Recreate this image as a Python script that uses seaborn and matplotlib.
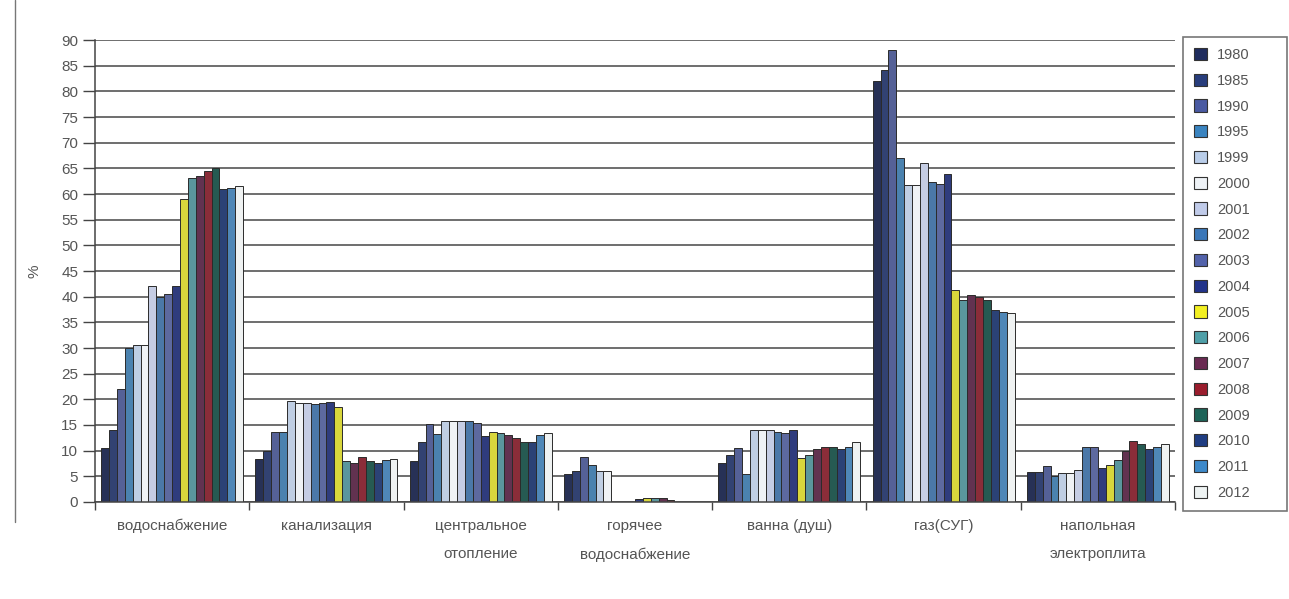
import matplotlib.pyplot as plt
import seaborn as sns
import pandas as pd
import numpy as np
from matplotlib.patches import Patch
from matplotlib.lines import Line2D

years = ["1980", "1985", "1990", "1995", "1999", "2000", "2001", "2002", "2003",
         "2004", "2005", "2006", "2007", "2008", "2009", "2010", "2011", "2012"]

categories = ["водоснабжение", "канализация", "центральное\nотопление",
              "горячее\nводоснабжение", "ванна (душ)", "газ(СУГ)",
              "напольная\nэлектроплита"]

water = [10.5, 14, 22, 30, 30.5, 30.5, 42, 40, 40.5, 42, 59, 63.2, 63.5, 64.5, 65, 61, 61.2, 61.5]
sewer = [8.3, 10, 13.7, 13.7, 19.6, 19.3, 19.3, 19, 19.2, 19.5, 18.5, 8, 7.5, 8.8, 8, 7.5, 8.1, 8.4]
heating = [8, 11.7, 15.2, 13.3, 15.7, 15.7, 15.7, 15.7, 15.3, 12.8, 13.7, 13.4, 13.1, 12.5, 11.7, 11.7, 13, 13.5]
hot_water = [5.5, 6, 8.7, 7.2, 6.1, 6.1, 0, 0, 0, 0.5, 0.8, 0.8, 0.7, 0.4, 0, 0, 0, 0]
bath = [7.5, 9.2, 10.5, 5.5, 14, 14, 14, 13.7, 13.5, 14, 8.5, 9.2, 10.4, 10.7, 10.7, 10.4, 10.7, 11.6]
gas = [82, 84.2, 88, 67, 61.8, 61.8, 66, 62.3, 62, 64, 41.3, 39.4, 40.4, 40, 39.4, 37.4, 37, 36.8]
stove = [5.8, 5.8, 7, 5, 5.7, 5.6, 6.2, 10.7, 10.7, 6.6, 7.2, 8.1, 10, 11.8, 11.2, 10.3, 10.7, 11.2]

colors = ["#1f2c5e", "#283d7c", "#4a5aa2", "#3a84c0", "#b9cde9", "#eef2f6",
          "#c0cbe9", "#3b77b8", "#5262aa", "#22338a", "#f2ef22", "#4f9fa8",
          "#6a2a52", "#9a1d2d", "#1d6358", "#1f3d82", "#3d89c9", "#eef3f3"]

sns.set_theme(style="ticks")
plt.rcParams["font.family"] = ["Liberation Sans Narrow", "Liberation Sans", "DejaVu Sans"]

series = [water, sewer, heating, hot_water, bath, gas, stove]
rows = []
for cat, vals in zip(categories, series):
    for yr, v in zip(years, vals):
        rows.append((cat, yr, v))
df = pd.DataFrame(rows, columns=["category", "year", "value"])

fig, ax = plt.subplots(figsize=(12.89, 5.99), dpi=100)
fig.subplots_adjust(left=0.0737, right=0.9116, bottom=0.162, top=0.933)

sns.barplot(data=df, x="category", y="value", hue="year", hue_order=years,
            order=categories, palette=colors, width=0.92, errorbar=None,
            edgecolor="#2b2b2b", linewidth=0.7, legend=False, ax=ax)

ax.set_ylim(0, 90)
ax.set_xlim(-0.5, len(categories) - 0.5)
ax.set_yticks(np.arange(0, 91, 5))
ax.yaxis.grid(True, color="#555555", linewidth=1.2)
ax.set_axisbelow(True)

# group boundary ticks, labels centred under groups
ax.set_xticks(np.arange(-0.5, len(categories), 1))
ax.set_xticklabels([])
ax.set_xticks(np.arange(len(categories)), minor=True)
ax.set_xticklabels(categories, minor=True, fontsize=11, color="#555555")
for lab in ax.get_xticklabels(minor=True):
    lab.set_linespacing(2.3)
    lab.set_verticalalignment("top")
ax.tick_params(axis="x", which="major", length=6, width=1, color="#444444", direction="out")
ax.tick_params(axis="x", which="minor", length=0, pad=12)
ax.tick_params(axis="y", length=9, width=1, color="#444444", labelsize=11,
               labelcolor="#555555", pad=3)

ax.set_xlabel("")
ax.set_ylabel("%", fontsize=11, color="#555555", labelpad=14)

sns.despine(ax=ax, top=True, right=True)
for side in ["left", "bottom"]:
    ax.spines[side].set_color("#444444")
    ax.spines[side].set_linewidth(1.1)

handles = [Patch(facecolor=c, edgecolor="#333333", linewidth=0.8, label=y)
           for c, y in zip(colors, years)]
leg = fig.legend(handles=handles, loc="upper left", mode="expand",
                 bbox_to_anchor=(1183 / 1289, 1 - 509 / 599, 104 / 1289, 472 / 599),
                 frameon=True, fontsize=10.5, handlelength=0.9, handleheight=0.9,
                 handletextpad=0.7, labelspacing=0.8, borderpad=0.75,
                 borderaxespad=0, fancybox=False, labelcolor="#555555")
leg.get_frame().set_edgecolor("#555555")
leg.get_frame().set_linewidth(1.2)

fig.add_artist(Line2D([15 / 1289, 15 / 1289], [1 - 522 / 599, 1.0],
                      color="#777777", linewidth=1))

fig.savefig("out.png", dpi=100)
plt.close(fig)
